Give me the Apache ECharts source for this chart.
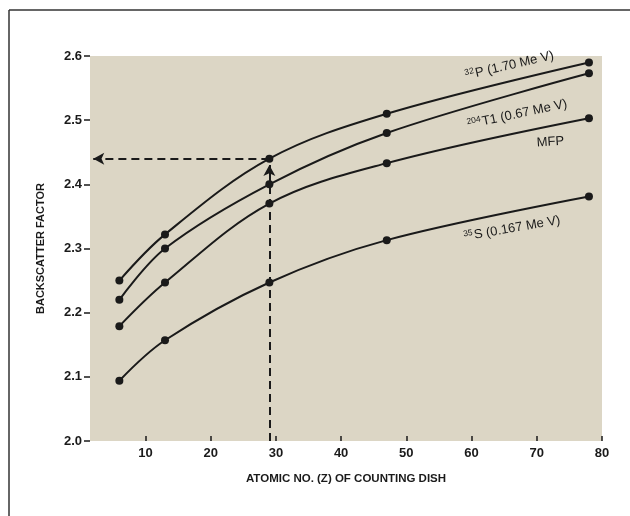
<!DOCTYPE html>
<html><head><meta charset="utf-8">
<script src="https://cdn.jsdelivr.net/npm/echarts@6/dist/echarts.min.js"></script>
<style>html,body{margin:0;padding:0;background:#fff;}#c{width:630px;height:516px;}</style>
</head><body><div id="c"></div>
<script>
const zValues = [6, 13, 29, 47, 78];
const p32 = [2.25, 2.322, 2.44, 2.51, 2.59];
const tl204 = [2.22, 2.30, 2.40, 2.48, 2.573];
const mfp = [2.179, 2.247, 2.37, 2.433, 2.503];
const s35 = [2.094, 2.157, 2.247, 2.313, 2.381];
const xTicks = [10, 20, 30, 40, 50, 60, 70, 80];
const readZ = 29, readValue = 2.44, arrowTip = 2.43;

const FONT = '"Liberation Sans", Arial, sans-serif';
const ink = '#1a1a1a';
function pts(ys){ return zValues.map((z,i)=>[z, ys[i]]); }
const rich = {
  sup:{fontSize:8.5, fontFamily:FONT, color:ink, verticalAlign:'top', padding:[0,1,6,0]},
  t:{fontSize:13, fontFamily:FONT, color:ink}
};
function tag(coord, text, rot){
  return {coord:coord, symbol:'circle', symbolSize:2, itemStyle:{color:'rgba(0,0,0,0)'},
    label:{show:true, formatter:text, rotate:rot, rich:rich, color:ink, fontSize:13, fontFamily:FONT, position:'inside'}};
}
function line(name, ys, marks, extra){
  return Object.assign({
    name:name, type:'line', data:pts(ys), smooth:0.35,
    symbol:'circle', symbolSize:8, showSymbol:true,
    lineStyle:{color:ink, width:2}, itemStyle:{color:ink},
    markPoint:{data:marks, silent:true},
    z:3, animation:false
  }, extra||{});
}
const chart = echarts.init(document.getElementById('c'), null, {renderer:'canvas'});
chart.setOption({
  backgroundColor:'#ffffff',
  animation:false,
  grid:{left:90, top:56, right:28, bottom:75, show:true, backgroundColor:'#dcd6c5', borderWidth:0},
  xAxis:{type:'value', min:1.5, max:80,
    name:'ATOMIC NO. (Z) OF COUNTING DISH', nameLocation:'middle', nameGap:32,
    nameTextStyle:{fontFamily:FONT, fontWeight:'bold', fontSize:11.5, color:ink},
    axisLine:{show:false},
    axisTick:{show:true, inside:true, length:5, customValues:xTicks, lineStyle:{color:ink, width:1.5}},
    axisLabel:{customValues:xTicks, fontFamily:FONT, fontWeight:'bold', fontSize:13, color:ink, margin:6},
    splitLine:{show:false}},
  yAxis:{type:'value', min:2.0, max:2.6, interval:0.1,
    name:'BACKSCATTER FACTOR', nameLocation:'middle', nameGap:44, nameRotate:90,
    nameTextStyle:{fontFamily:FONT, fontWeight:'bold', fontSize:11, color:ink},
    axisLine:{show:false},
    axisTick:{show:true, length:6, lineStyle:{color:ink, width:1.5}},
    axisLabel:{formatter:v=>v.toFixed(1), fontFamily:FONT, fontWeight:'bold', fontSize:13, color:ink, margin:8},
    splitLine:{show:false}},
  graphic:[
    {type:'line', shape:{x1:9, y1:10, x2:630, y2:10}, style:{stroke:'#333', lineWidth:1.5}},
    {type:'line', shape:{x1:9, y1:10, x2:9, y2:516}, style:{stroke:'#333', lineWidth:1.5}}
  ],
  series:[
    line('32P', p32, [tag([65.8, 2.585], '{sup|32}{t|P (1.70 Me V)}', 13)], {
      markLine:{silent:true, symbol:['none','arrow'], symbolSize:[9,11],
        lineStyle:{color:ink, width:2, type:[8,5]}, label:{show:false},
        data:[
          [{coord:[readZ, 2.0]}, {coord:[readZ, arrowTip]}],
          [{coord:[readZ, readValue]}, {coord:[2.0, readValue]}]
        ]}
    }),
    line('204Tl', tl204, [tag([67.0, 2.509], '{sup|204}{t|T1 (0.67 Me V)}', 12)]),
    line('MFP', mfp, [tag([72.1, 2.466], '{t|MFP}', 4)]),
    line('35S', s35, [tag([66.2, 2.331], '{sup|35}{t|S (0.167 Me V)}', 10)])
  ]
});
</script></body></html>
